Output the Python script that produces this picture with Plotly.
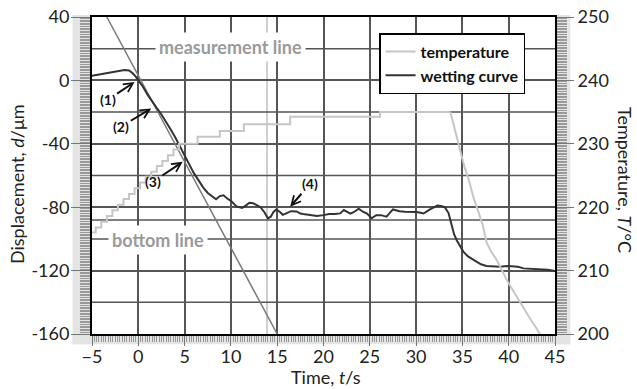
import plotly.graph_objects as go

# ---- data ----
WET_T = [
    -5.0, -4.5, -4.0, -3.5, -3.0, -2.5, -2.0, -1.5, -1.0, -0.6,
    -0.3, 0.0, 0.5, 1.0, 1.5, 2.0, 2.5, 3.0, 3.5, 4.0,
    4.5, 5.0, 5.5, 6.0, 6.5, 7.0, 7.5, 8.0, 8.4, 8.8,
    9.2, 9.6, 10.0, 10.6, 11.2, 11.6, 12.0, 12.4, 12.8, 13.2,
    13.6, 14.0, 14.3, 14.6, 14.9, 15.3, 15.6, 16.0, 16.5, 17.1,
    17.5, 17.8, 18.5, 19.3, 20.0, 20.6, 21.2, 21.8, 22.2, 22.9,
    23.3, 23.8, 24.3, 24.7, 25.2, 25.7, 26.2, 26.8, 27.5, 28.2,
    28.8, 29.3, 30.0, 30.5, 30.8, 31.5, 32.0, 32.3, 32.7, 33.1,
    33.5, 33.8, 34.1, 34.4, 34.8, 35.1, 35.6, 36.2, 37.0, 37.6,
    38.3, 39.1, 39.8, 40.5, 41.0, 41.6, 42.4, 43.4, 44.2, 45.0]
WET_D = [
    3.0, 3.5, 4.0, 4.5, 5.0, 5.5, 6.0, 6.5, 6.3, 4.5,
    2.5, 0.0, -4.0, -9.0, -13.5, -17.5, -21.5, -26.0, -31.0, -36.0,
    -42.0, -48.0, -53.0, -58.5, -63.0, -67.5, -71.0, -73.5, -75.0, -73.0,
    -72.5, -74.5, -76.0, -79.5, -80.5, -79.0, -77.2, -77.5, -78.6, -80.0,
    -83.0, -87.0, -86.0, -83.0, -81.5, -83.0, -84.8, -84.0, -82.5, -82.7,
    -84.0, -84.3, -85.0, -85.5, -85.0, -84.3, -84.3, -83.9, -81.8, -84.1,
    -83.0, -81.0, -83.0, -84.0, -87.0, -85.0, -85.0, -86.0, -81.4, -82.6,
    -82.8, -82.7, -83.0, -83.5, -84.0, -81.4, -80.0, -79.0, -79.3, -80.0,
    -83.7, -90.0, -97.0, -101.0, -105.0, -108.0, -111.0, -113.3, -116.0, -117.1,
    -117.3, -117.5, -117.1, -117.3, -117.6, -118.6, -118.8, -119.2, -119.5, -120.2]

# temperature: stepped rise/plateau, then the cooling ramp
TEMP_T = [-5.0, -4.6, -4.0, -3.4, -2.8, -2.2, -1.6, -1.0, -0.4, 0.2,
          0.8, 1.4, 2.0, 2.6, 3.2, 3.8, 4.4, 6.4, 8.8, 11.4,
          16.4, 26.1, 33.7]
TEMP_V = [216.0, 216.8, 217.7, 218.6, 219.5, 220.4, 221.3, 222.1, 223.0, 223.9,
          224.8, 225.6, 226.5, 227.3, 228.2, 229.1, 230.0, 231.1, 232.0, 233.1,
          234.25, 235.0, 235.0]
COOL_T = [33.7, 34.0, 34.35, 34.7, 35.0, 35.3, 35.7, 36.2, 36.7, 37.2,
          37.6, 38.1, 38.7, 39.2, 39.8, 40.4, 41.2, 41.8, 42.4, 43.0, 43.6]
COOL_V = [235.0, 233.2, 231.4, 229.5, 227.6, 226.0, 224.3, 221.5, 219.4, 217.2,
          214.5, 213.0, 211.7, 210.2, 208.5, 207.0, 205.0, 203.6, 202.2, 200.9, 199.4]

MEAS_T = [-3.4, 15.0]
MEAS_D = [40.0, -160.0]

MARK_T = 13.9        # light vertical marker
BOTTOM_D = -88.0     # extra horizontal reference

X_TICKS = [-5, 0, 5, 10, 15, 20, 25, 30, 35, 40, 45]
Y_TICKS = [40, 0, -40, -80, -120, -160]
Y_TEXT = ["40", "0", "-40", "-80", "-120", "-160"]
Y_GRID = [20, -20, -60, -100, -140]
T_TICKS = [250, 240, 230, 220, 210, 200]

FONT = "Lato"
GRID = "#555555"
BAND = "#e4e4e4"

W, H = 637, 389
ML, MR, MT, MB = 92, 82, 17, 55

fig = go.Figure()

fig.add_trace(go.Scatter(x=MEAS_T, y=MEAS_D, mode="lines",
                         line=dict(color="#7a7a7a", width=1.5),
                         showlegend=False, hoverinfo="skip"))
fig.add_trace(go.Scatter(x=TEMP_T, y=TEMP_V, mode="lines", name="temperature",
                         yaxis="y2", legendgroup="temp",
                         line=dict(color="#c6c6c6", width=2, shape="hv")))
fig.add_trace(go.Scatter(x=COOL_T, y=COOL_V, mode="lines", name="temperature",
                         yaxis="y2", legendgroup="temp", showlegend=False,
                         line=dict(color="#c6c6c6", width=2)))
fig.add_trace(go.Scatter(x=WET_T, y=WET_D, mode="lines", name="wetting curve",
                         line=dict(color="#333333", width=2)))

tickfont = dict(family=FONT, size=18, color="#222")
common = dict(zeroline=False, automargin=False, showline=True, linecolor="black",
              linewidth=2, ticks="outside", tickcolor="#777777", tickwidth=1,
              tickfont=tickfont, ticklabeloverflow="allow")

fig.update_layout(
    template="none",
    width=W, height=H,
    margin=dict(l=ML, r=MR, t=MT, b=MB, pad=0),
    paper_bgcolor="white", plot_bgcolor="white",
    font=dict(family=FONT),
    xaxis=dict(range=[-5, 45], tickvals=X_TICKS, ticklen=10, mirror=True,
               ticklabelstandoff=-5,
               showgrid=True, gridcolor=GRID, gridwidth=1.5,
               minor=dict(dtick=0.25, ticklen=6, tickcolor="#999", ticks="outside",
                          showgrid=False),
               **common),
    yaxis=dict(range=[-160, 40], tickvals=Y_TICKS, ticktext=Y_TEXT, ticklen=19,
               ticklabelstandoff=-2,
               mirror=True, showgrid=True, gridcolor=GRID, gridwidth=1.5,
               minor=dict(dtick=1, ticklen=10, tickcolor="#999", ticks="outside",
                          showgrid=False),
               **common),
    yaxis2=dict(range=[200, 250], tickvals=T_TICKS, overlaying="y", side="right",
                showgrid=False, ticklen=17,
                minor=dict(dtick=0.25, ticklen=10, tickcolor="#999", ticks="outside"),
                **common),
    legend=dict(x=0.62, y=0.949, xanchor="left", yanchor="top",
                bgcolor="white", bordercolor="black", borderwidth=1.5,
                tracegroupgap=0,
                font=dict(family=FONT, size=16, color="#111", weight="bold")),
    showlegend=True,
)

shapes = [
    dict(type="rect", xref="paper", yref="paper", x0=-0.042, x1=0, y0=-0.032, y1=1.006,
         fillcolor=BAND, line=dict(width=0), layer="below"),
    dict(type="rect", xref="paper", yref="paper", x0=1, x1=1.033, y0=-0.032, y1=1.006,
         fillcolor=BAND, line=dict(width=0), layer="below"),
    dict(type="rect", xref="paper", yref="paper", x0=-0.042, x1=1.033, y0=-0.032, y1=0,
         fillcolor=BAND, line=dict(width=0), layer="below"),
    dict(type="line", xref="x", yref="paper", x0=MARK_T, x1=MARK_T, y0=0, y1=1,
         line=dict(color="#cfcfcf", width=2), layer="below"),
    dict(type="line", xref="paper", yref="y", x0=0, x1=1, y0=BOTTOM_D, y1=BOTTOM_D,
         line=dict(color=GRID, width=1.5), layer="below"),
]
for v in Y_GRID:
    shapes.append(dict(type="line", xref="paper", yref="y", x0=0, x1=1, y0=v, y1=v,
                       line=dict(color=GRID, width=1.5), layer="below"))
fig.update_layout(shapes=shapes)


def px_to_paper(px, py):
    """page pixel -> paper coords"""
    return (px - ML) / (W - ML - MR), (H - MB - py) / (H - MT - MB)


lbl = dict(family=FONT, size=18, color="#9a9a9a", weight="bold")
ann = [
    dict(text="measurement line", x=10.0, y=21, xref="x", yref="y", showarrow=False,
         font=lbl, bgcolor="white", borderpad=3),
    dict(text="bottom line", x=2.1, y=-101, xref="x", yref="y", showarrow=False,
         font=lbl, bgcolor="white", borderpad=3),
]
title_kw = dict(xref="paper", yref="paper", showarrow=False, font=tickfont,
                xanchor="center", yanchor="middle")
lx, ly = px_to_paper(17, 185)
ann.append(dict(text="Displacement, <i>d</i>/μm", x=lx, y=ly, textangle=-90, **title_kw))
tx, ty = px_to_paper(326, 377)
ann.append(dict(text="Time, <i>t</i>/s", x=tx, y=ty, **title_kw))
rx, ry = px_to_paper(625, 180)
ann.append(dict(text="Temperature, <i>T</i>/°C", x=rx, y=ry, textangle=90, **title_kw))

arrows = [("(1)", -0.4, -1.0, -27, 18), ("(2)", 1.4, -17.7, -30, 18),
          ("(3)", 4.8, -51.4, -30, 20), ("(4)", 16.4, -79.7, 20, -23)]
for label, x, y, axp, ayp in arrows:
    ann.append(dict(text=label, x=x, y=y, xref="x", yref="y", ax=axp, ay=ayp,
                    showarrow=True, arrowhead=5, arrowsize=0.9, arrowwidth=2,
                    arrowcolor="#111", standoff=0,
                    font=dict(family=FONT, size=14, color="#111", weight="bold")))
fig.update_layout(annotations=ann)

# remove the default 8px page margin so the figure fills the window exactly
fig.write_html("out.html", config={"displayModeBar": False},
               post_script="document.body.style.margin='0px';")
